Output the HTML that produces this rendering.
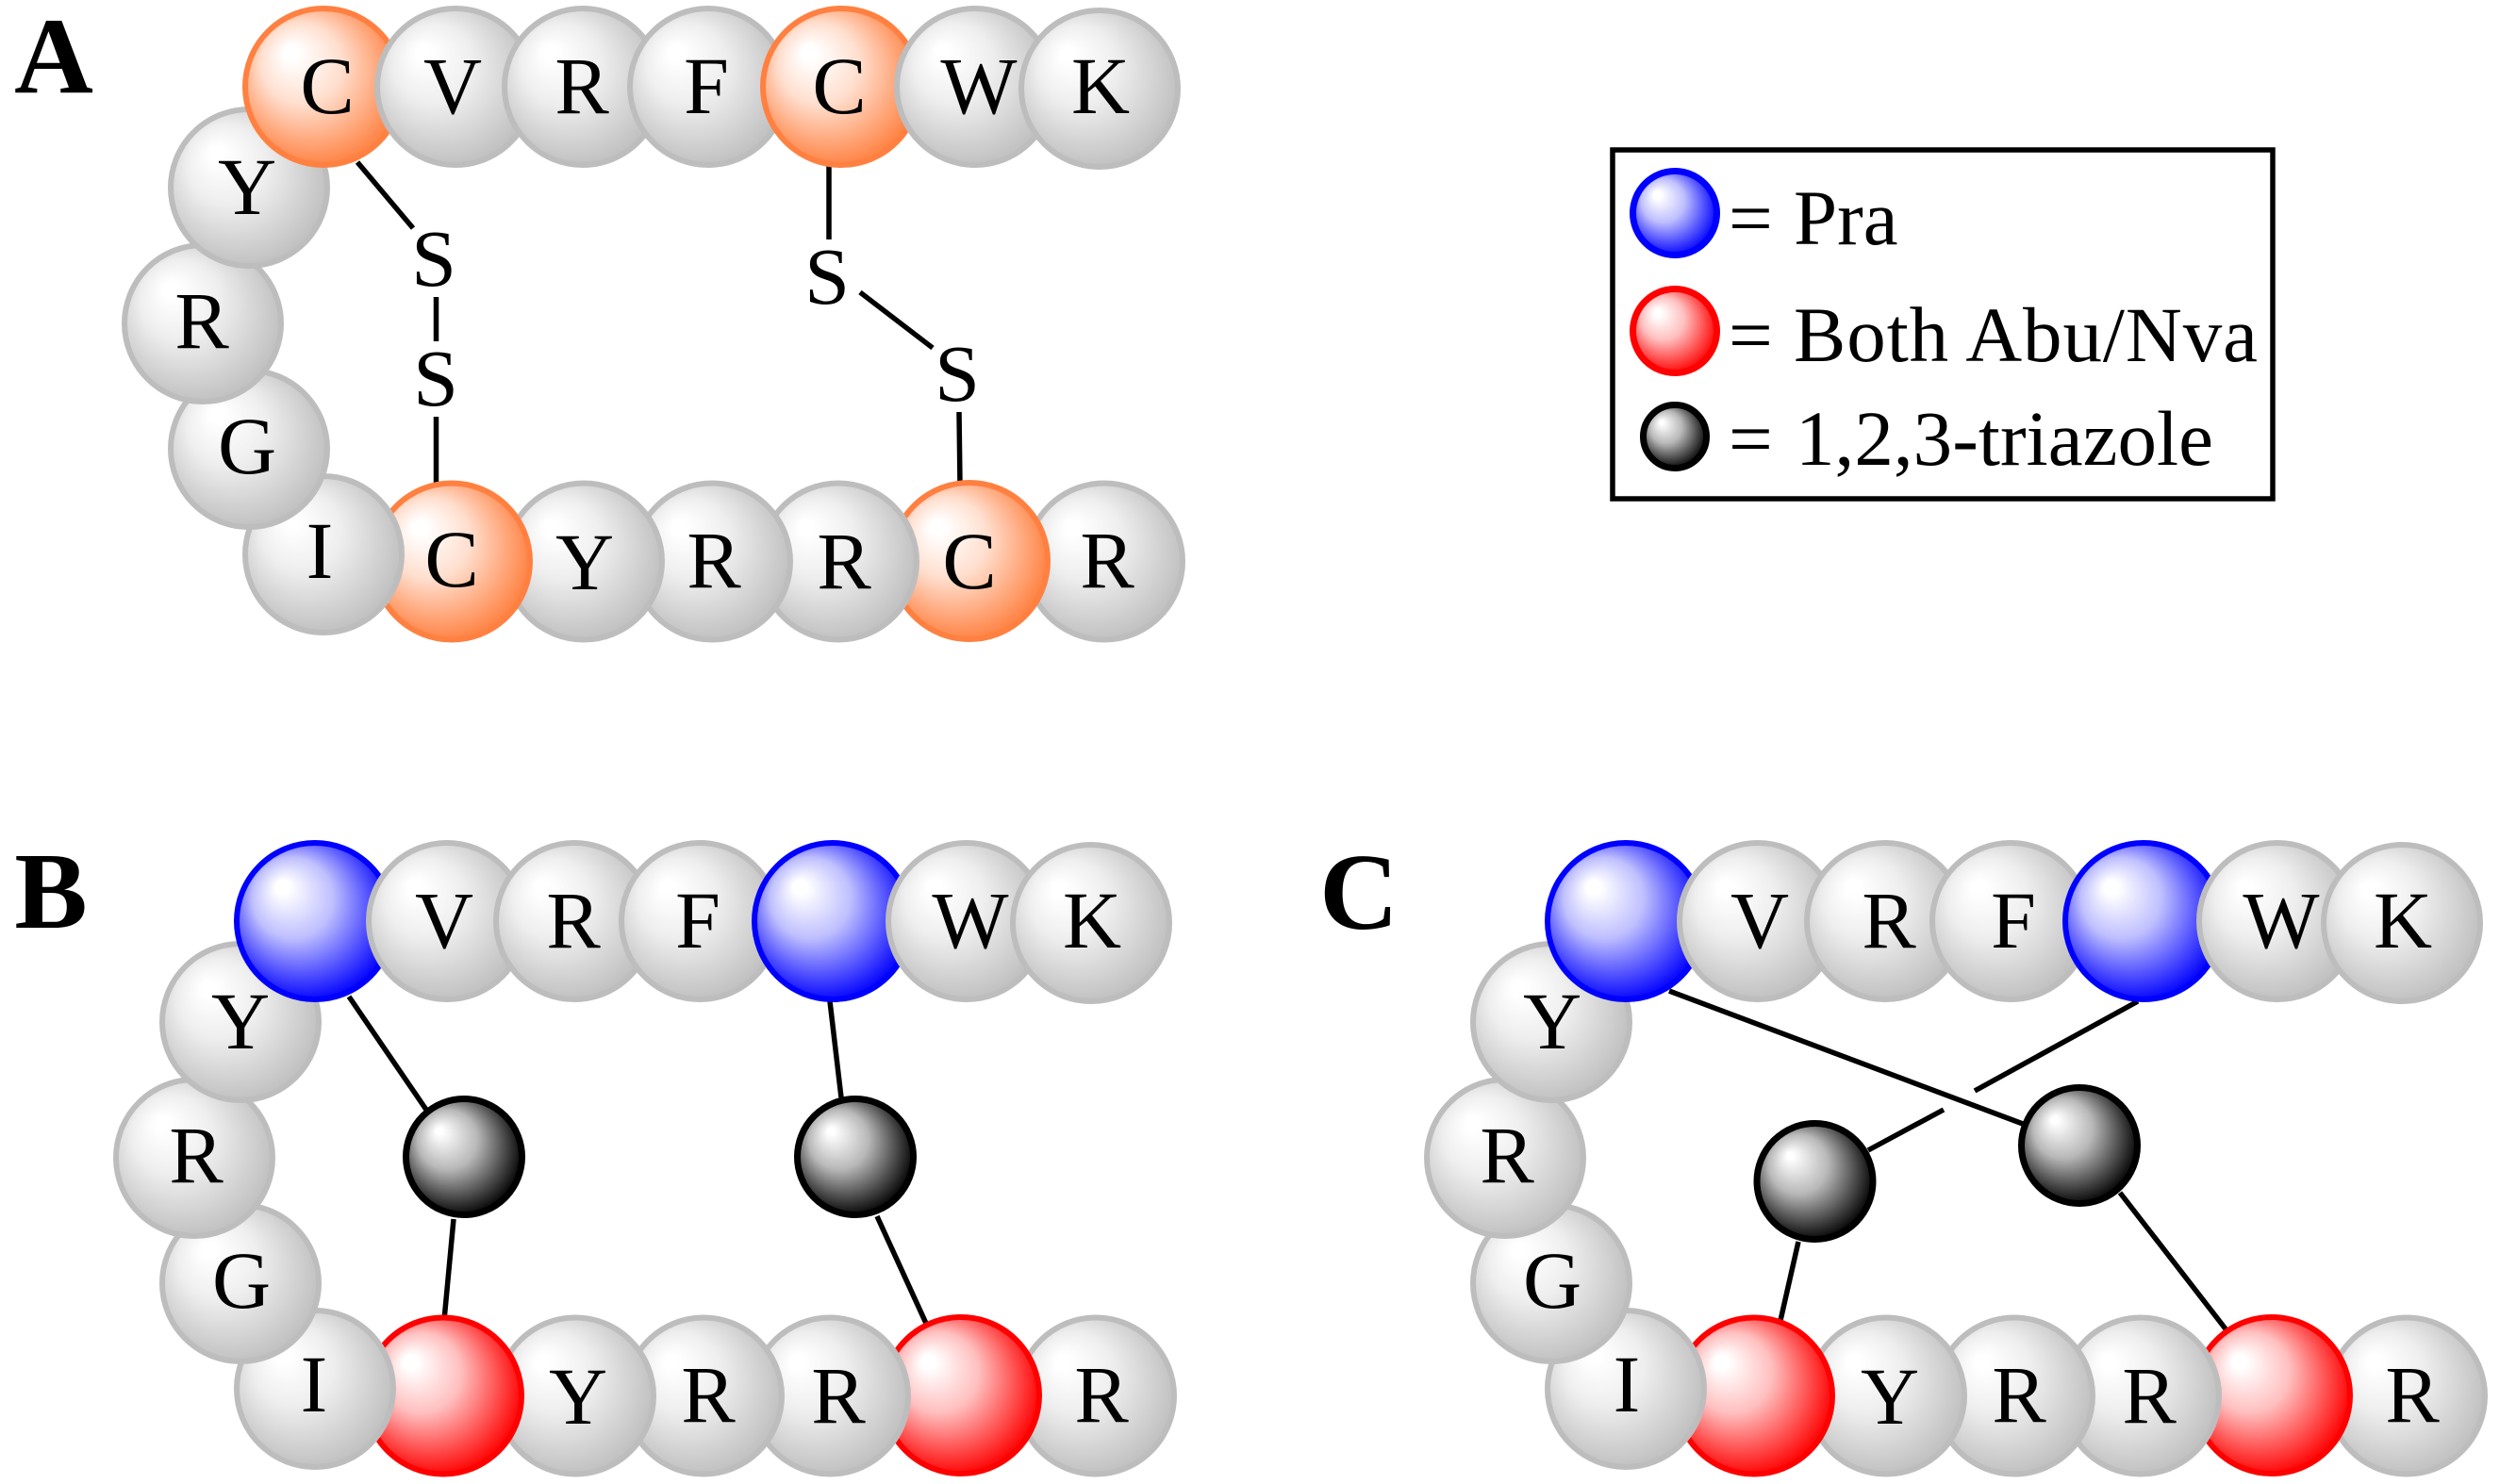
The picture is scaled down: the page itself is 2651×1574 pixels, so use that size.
<!DOCTYPE html>
<html><head><meta charset="utf-8"><style>
html,body{margin:0;padding:0;background:#fff}
svg{display:block}
text{font-family:"Liberation Serif",serif;fill:#000}
.l text{font-size:86px;text-anchor:middle}
.p{font-size:116px;font-weight:bold;text-anchor:middle}
.t{font-size:83px}
circle{stroke-width:6}
.a{fill:url(#gg);stroke:#bdbdbd}
.o{fill:url(#go);stroke:#ff8040}
.b{fill:url(#gb);stroke:#0000ff}
.r{fill:url(#gr);stroke:#ff0000}
.k{fill:url(#gk);stroke:#000;stroke-width:7}
line{stroke:#000;stroke-width:5.5}
</style></head><body>
<svg width="2651" height="1574" viewBox="0 0 2651 1574" xmlns="http://www.w3.org/2000/svg">
<defs>
<radialGradient id="gg" cx=".45" cy=".45" r=".57" fx=".28" fy=".27"><stop offset=".08" stop-color="#fff"/><stop offset=".45" stop-color="#eeeeee"/><stop offset="1" stop-color="#bfbfbf"/></radialGradient>
<radialGradient id="go" cx=".45" cy=".45" r=".57" fx=".28" fy=".27"><stop offset=".08" stop-color="#fff"/><stop offset=".45" stop-color="#ffdfcf"/><stop offset="1" stop-color="#ff8040"/></radialGradient>
<radialGradient id="gb" cx=".45" cy=".45" r=".57" fx=".28" fy=".27"><stop offset=".08" stop-color="#fff"/><stop offset=".45" stop-color="#bfbfff"/><stop offset="1" stop-color="#0000ff"/></radialGradient>
<radialGradient id="gr" cx=".45" cy=".45" r=".57" fx=".28" fy=".27"><stop offset=".08" stop-color="#fff"/><stop offset=".45" stop-color="#ffbfbf"/><stop offset="1" stop-color="#ff0000"/></radialGradient>
<radialGradient id="gk" cx=".45" cy=".45" r=".57" fx=".28" fy=".27"><stop offset=".05" stop-color="#fff"/><stop offset=".45" stop-color="#b8b8b8"/><stop offset="1" stop-color="#000"/></radialGradient>
</defs>
<rect width="2651" height="1574" fill="#fff"/>

<!-- Panel A -->
<g>
<line x1="379" y1="172" x2="438" y2="242"/><line x1="462.5" y1="315" x2="462.5" y2="362"/><line x1="462.5" y1="442" x2="462.5" y2="515"/>
<line x1="879" y1="176" x2="879" y2="254"/><line x1="912" y1="310" x2="989" y2="369"/><line x1="1017" y1="437" x2="1018" y2="514"/>
<circle class="a" cx="1171" cy="595.5" r="83"/><circle class="o" cx="1028" cy="595" r="83"/><circle class="a" cx="889" cy="595.5" r="83"/><circle class="a" cx="755" cy="595.5" r="83"/><circle class="a" cx="619" cy="595.5" r="83"/><circle class="o" cx="479" cy="595.5" r="83"/><circle class="a" cx="343" cy="588" r="83"/><circle class="a" cx="264" cy="476" r="83"/><circle class="a" cx="215" cy="343" r="83"/><circle class="a" cx="264" cy="199" r="83"/><circle class="o" cx="343" cy="92" r="83"/><circle class="a" cx="483" cy="92" r="83"/><circle class="a" cx="618" cy="92" r="83"/><circle class="a" cx="751" cy="92" r="83"/><circle class="o" cx="892" cy="92" r="83"/><circle class="a" cx="1034" cy="92" r="83"/><circle class="a" cx="1166" cy="94" r="83"/>
<g class="l">
<text x="347" y="120">C</text><text x="480" y="120">V</text><text x="617" y="120">R</text><text x="749" y="120">F</text><text x="890" y="120">C</text><text x="1038" y="120">W</text><text x="1167" y="120">K</text>
<text x="262" y="227">Y</text><text x="214" y="369">R</text><text x="262" y="502">G</text><text x="339" y="613">I</text>
<text x="479" y="622">C</text><text x="620" y="625">Y</text><text x="757" y="623">R</text><text x="895" y="624">R</text><text x="1028" y="624">C</text><text x="1174" y="623">R</text>
<text x="460" y="303">S</text><text x="462" y="430">S</text><text x="877" y="322">S</text><text x="1015" y="425">S</text>
</g>
<text class="p" x="57" y="98">A</text>
</g>

<!-- Panel B -->
<g transform="translate(-9,885)">
<line x1="379" y1="172" x2="461" y2="292"/><line x1="889" y1="177" x2="901" y2="279"/><line x1="490" y1="408" x2="480" y2="515"/><line x1="939" y1="405" x2="993" y2="523"/>
<circle class="a" cx="1171" cy="595.5" r="83"/><circle class="r" cx="1028" cy="595" r="83"/><circle class="a" cx="889" cy="595.5" r="83"/><circle class="a" cx="755" cy="595.5" r="83"/><circle class="a" cx="619" cy="595.5" r="83"/><circle class="r" cx="479" cy="595.5" r="83"/><circle class="a" cx="343" cy="588" r="83"/><circle class="a" cx="264" cy="476" r="83"/><circle class="a" cx="215" cy="343" r="83"/><circle class="a" cx="264" cy="199" r="83"/><circle class="b" cx="343" cy="92" r="83"/><circle class="a" cx="483" cy="92" r="83"/><circle class="a" cx="618" cy="92" r="83"/><circle class="a" cx="751" cy="92" r="83"/><circle class="b" cx="892" cy="92" r="83"/><circle class="a" cx="1034" cy="92" r="83"/><circle class="a" cx="1166" cy="94" r="83"/>
<circle class="k" cx="501" cy="342" r="61.5"/><circle class="k" cx="916" cy="342" r="61.5"/>
<g class="l">
<text x="480" y="120">V</text><text x="617" y="120">R</text><text x="749" y="120">F</text><text x="1038" y="120">W</text><text x="1167" y="120">K</text>
<text x="264" y="227">Y</text><text x="217" y="369">R</text><text x="265" y="502">G</text><text x="342" y="612">I</text>
<text x="622" y="625">Y</text><text x="760" y="623">R</text><text x="898" y="624">R</text><text x="1177" y="623">R</text>
</g>
</g>
<text class="p" x="54" y="984">B</text>

<!-- Panel C -->
<g transform="translate(1381,885)">
<line x1="389" y1="166" x2="764" y2="307"/><line x1="886" y1="177" x2="713" y2="272"/><line x1="680" y1="292" x2="600" y2="335"/><line x1="526" y1="432" x2="506" y2="520"/><line x1="867" y1="380" x2="984" y2="531"/>
<circle class="a" cx="1171" cy="595.5" r="83"/><circle class="r" cx="1028" cy="595" r="83"/><circle class="a" cx="889" cy="595.5" r="83"/><circle class="a" cx="755" cy="595.5" r="83"/><circle class="a" cx="619" cy="595.5" r="83"/><circle class="r" cx="479" cy="595.5" r="83"/><circle class="a" cx="343" cy="588" r="83"/><circle class="a" cx="264" cy="476" r="83"/><circle class="a" cx="215" cy="343" r="83"/><circle class="a" cx="264" cy="199" r="83"/><circle class="b" cx="343" cy="92" r="83"/><circle class="a" cx="483" cy="92" r="83"/><circle class="a" cx="618" cy="92" r="83"/><circle class="a" cx="751" cy="92" r="83"/><circle class="b" cx="892" cy="92" r="83"/><circle class="a" cx="1034" cy="92" r="83"/><circle class="a" cx="1166" cy="94" r="83"/>
<circle class="k" cx="543.5" cy="368" r="61.5"/><circle class="k" cx="824" cy="330" r="61.5"/>
<g class="l">
<text x="485" y="120">V</text><text x="622" y="120">R</text><text x="754" y="120">F</text><text x="1038" y="120">W</text><text x="1167" y="120">K</text>
<text x="265" y="227">Y</text><text x="217" y="369">R</text><text x="265" y="502">G</text><text x="344" y="612">I</text>
<text x="623" y="625">Y</text><text x="760" y="623">R</text><text x="898" y="624">R</text><text x="1177" y="623">R</text>
</g>
</g>
<text class="p" x="1441" y="985">C</text>

<!-- Legend -->
<rect x="1710" y="159" width="700" height="370" fill="#fff" stroke="#000" stroke-width="5.5"/>
<circle class="b" cx="1776" cy="226" r="44.5" style="stroke-width:7"/>
<circle class="r" cx="1776" cy="351" r="44.5" style="stroke-width:7"/>
<circle class="k" cx="1776" cy="463" r="33.5"/>
<text class="t" x="1833" y="259">=</text><text class="t" x="1902" y="259">Pra</text>
<text class="t" x="1833" y="383">=</text><text class="t" x="1902" y="383" textLength="492">Both Abu/Nva</text>
<text class="t" x="1833" y="493">=</text><text class="t" x="1904" y="493" textLength="443">1,2,3-triazole</text>
</svg>
</body></html>
